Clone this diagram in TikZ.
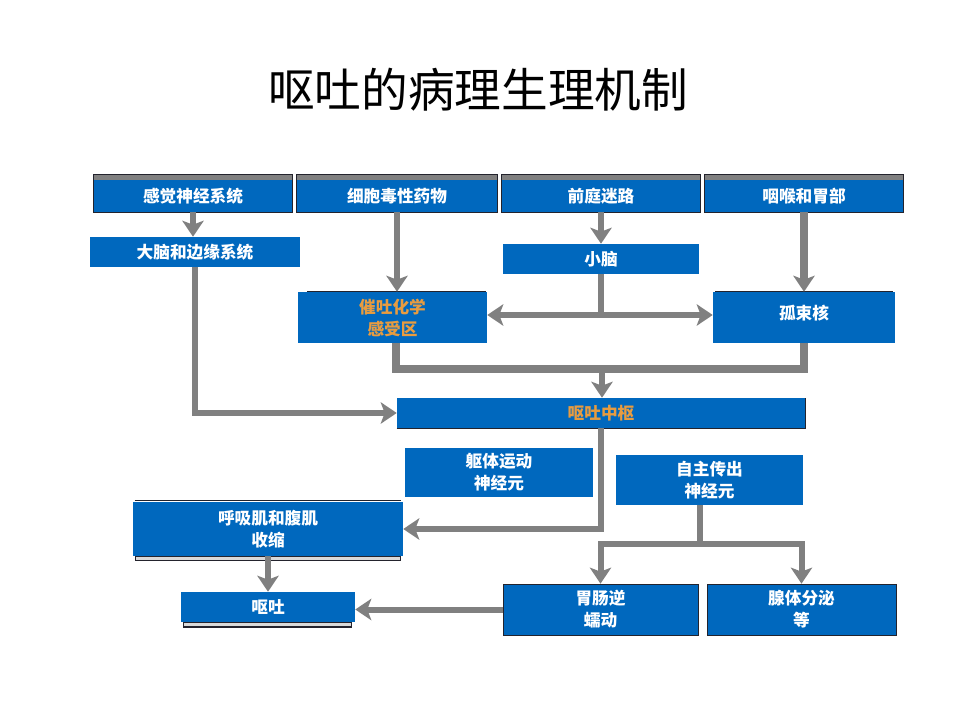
\documentclass[tikz,border=0pt]{standalone}
\usepackage{fontspec}
\newfontfamily\cjk{Noto Sans CJK SC}
\usetikzlibrary{arrows.meta}
\definecolor{bx}{RGB}{0,104,190}
\definecolor{ar}{RGB}{128,128,128}
\definecolor{og}{RGB}{232,156,64}
\definecolor{dk}{RGB}{35,35,45}
\newcommand\bx[7][]{\node[box,#1,minimum width={(#5-#3)*0.75pt},minimum height={(#6-#4)*0.75pt}] (#2) at ({(#3+#5)/2},{(#4+#6)/2}) {#7};}
\newcommand\topbx[4]{%
  \bx{#1}{#2}{180}{#3}{212}{#4}
  \fill[ar] (#1.north west) rectangle ([yshift=3.8pt]#1.north east);
  \draw[dk,line width=1.1pt] ([yshift=3.8pt]#1.north west) rectangle (#1.south east);}
\begin{document}
\begin{tikzpicture}[x=0.75pt,y=-0.75pt,
  box/.style={fill=bx,text=white,inner sep=0pt,align=center,
    font=\cjk\bfseries\fontsize{12.5pt}{16.5pt}\selectfont},
  ln/.style={draw=ar,line width=4.5pt},
  thk/.style={draw=ar,line width=6pt},
  tip/.style={-{Stealth[length=12pt,width=16pt,inset=3pt]}},
  arr/.style={ln,tip},
  arrboth/.style={ln,{Stealth[length=12pt,width=16pt,inset=3pt]}-{Stealth[length=12pt,width=16pt,inset=3pt]}},
  edge/.style={draw=dk,line width=0.9pt}]
\useasboundingbox (0,0) rectangle (960,720);
\fill[white] (0,0) rectangle (960,720);

\node[font=\cjk\fontsize{35pt}{40pt}\selectfont,inner sep=0pt] (title) at (478,90) {呕吐的病理生理机制};

% top row
\topbx{s1}{94}{292}{感觉神经系统}
\topbx{cy}{297}{497}{细胞毒性药物}
\topbx{ve}{502}{700}{前庭迷路}
\topbx{ph}{705}{903}{咽喉和胃部}

% second level
\bx{br}{90}{237}{300}{267}{大脑和边缘系统}
\bx{ce}{503}{244}{699}{274}{小脑}
\bx[text=og]{ctz}{298}{292}{487}{343}{催吐化学\\感受区}
\bx{nts}{713}{292}{895}{343}{\raisebox{7.5pt}{孤束核}}
\draw[edge] ([xshift=7pt]ctz.north west) -- ([xshift=-1pt]ctz.north east);
\draw[edge] ([xshift=2pt]nts.north west) -- ([xshift=-2pt]nts.north east);

% vomiting centre
\bx[text=og]{vc}{397}{398}{805}{428}{呕吐中枢}
\draw[edge] (vc.south west) -- (vc.south east) -- (vc.north east);

% lower boxes
\bx{som}{405}{448}{593}{497}{躯体运动\\神经元}
\bx{aut}{616}{455}{803}{505}{自主传出\\神经元}
\bx{res}{133}{502}{403}{556}{呼吸肌和腹肌\\收缩}
\draw[edge] ([xshift=1.5pt,yshift=1pt]res.north west) -- ([xshift=-1.5pt,yshift=1pt]res.north east);
\draw[edge,fill=black!15] ([xshift=2pt]res.south west) rectangle ([xshift=-2pt,yshift=-3pt]res.south east);
\bx{vom}{181}{592}{355}{622}{呕吐}
\draw[edge,fill=black!15] ([xshift=2pt]vom.south west) rectangle ([xshift=-3pt,yshift=-3.5pt]vom.south east);
\bx[draw=dk,line width=0.5pt]{gi}{503}{584}{698}{635}{胃肠逆\\蠕动}
\bx[draw=dk,line width=0.5pt]{gl}{707}{584}{896}{635}{腺体分泌\\等}

% connectors
\coordinate (j1) at (601,315);
\coordinate (m1) at (602,369);
\coordinate (a1) at (700,544);

\draw[arr] (s1.south) -- (s1.south |- br.north);
\draw[arr] (cy.south) -- (cy.south |- ctz.north);
\draw[arr] (ve.south) -- (ve.south |- ce.north);
\draw[thk,tip] (ph.south) -- (ph.south |- nts.north);

\draw[ln] (ce.south) -- (j1);
\draw[arrboth] (ctz.east |- j1) -- (nts.west |- j1);

\draw[thk,line join=miter] (ctz.south -| 396,0) |- (nts.south |- m1) -- (nts.south);
\draw[arr] (m1) -- (m1 |- vc.north);

\draw[arr] (br.south) |- (vc.west);
\draw[arr] (vc.south) |- (res.east);
\draw[arr] (res.south) -- (res.south |- vom.north);
\draw[arr] (gi.west) -- (vom.east |- gi.west);

\draw[ln] (aut.south -| a1) -- (a1);
\draw[arr] (a1) -| (gi.north);
\draw[arr] (a1) -| (gl.north);
\end{tikzpicture}
\end{document}
